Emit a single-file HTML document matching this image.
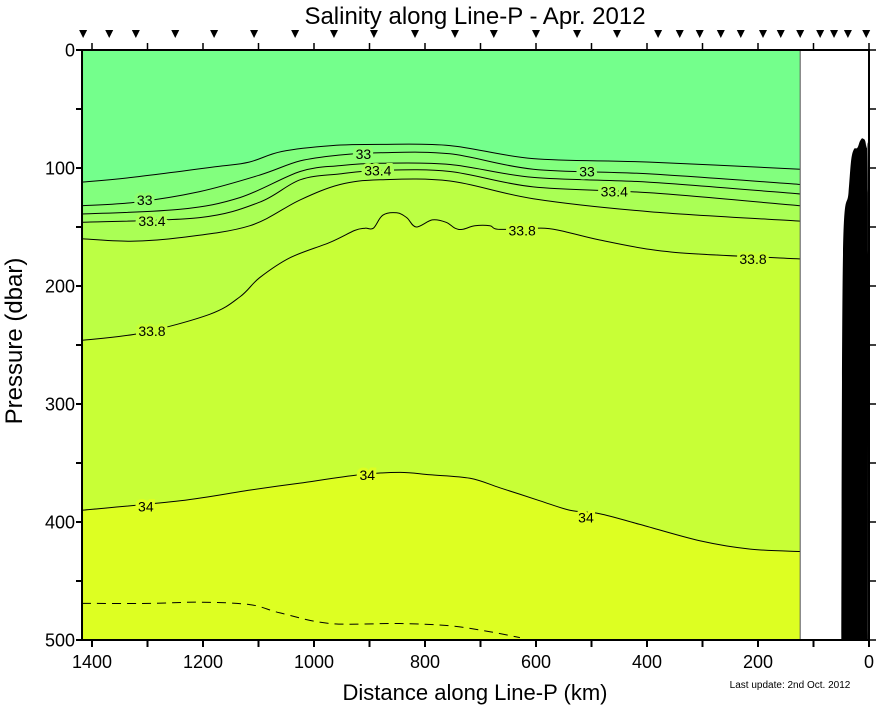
<!DOCTYPE html>
<html><head><meta charset="utf-8"><style>
html,body{margin:0;padding:0;background:#fff;}
svg{display:block;font-family:"Liberation Sans",Arial,sans-serif;}
</style></head><body>
<svg id="chart" width="878" height="708" viewBox="0 0 878 708" xmlns="http://www.w3.org/2000/svg">
<text x="475" y="24" font-size="24" text-anchor="middle">Salinity along Line-P - Apr. 2012</text>
<text transform="translate(22,341) rotate(-90)" font-size="24" text-anchor="middle">Pressure (dbar)</text>
<text x="475" y="700" font-size="22" text-anchor="middle">Distance along Line-P (km)</text>
<text x="790" y="688" font-size="10" text-anchor="middle">Last update: 2nd Oct. 2012</text>
<g id="plot"></g>
</svg>
<script>
// ---- data (distance km, pressure dbar) ----
const stationsKm=[1416,1369,1321,1250,1180,1108,1034,964,892,818,746,676,600,526,454,380,341,305,267,231,191,159,124,88,63,38,5];
const xTicksKm=[0,100,200,300,400,500,600,700,800,900,1000,1100,1200,1300,1400];
const xTickLabels=[0,200,400,600,800,1000,1200,1400];
const yTickLabels=[0,100,200,300,400,500];
const c1Km=[1418,1328,1178,1117,1058,968,881,755,605,395,124];
const c1P=[112,108,99,95,86,81,80,81,92,95,101];
const c2Km=[1418,1322,1206,1098,1025,953,881,755,605,395,124];
const c2P=[132,129,120,106,94,89,87,88,101,105,114];
const c3Km=[1418,1241,1133,1025,953,881,755,605,395,124];
const c3P=[139,135,125,103,98,96,97,108,112,122];
const c4Km=[1418,1206,1098,1025,953,881,755,605,395,124];
const c4P=[146,142,129,110,105,102,103,116,121,132];
const c5Km=[1418,1331,1241,1116,1025,953,881,755,605,395,124];
const c5P=[160,162,159,149,127,114,110,111,126,137,145];
const c6Km=[1418,1313,1188,1133,1098,1043,971,927,908,893,876,851,833,816,787,762,746,733,710,683,665,584,539,485,395,304,124];
const c6P=[246,240,224,209,193,176,163,153,151,151,140,138,142,150,144,146,151,152,149,149,152,151,155,161,169,173,177];
const c7Km=[1418,1241,1116,1025,918,845,791,719,665,593,539,485,413,304,214,124];
const c7P=[390,382,373,367,360,358,360,363,371,382,390,393,402,416,423,425];
const dashKm=[1418,1296,1206,1116,1061,971,845,755,683,629];
const dashP=[469,469,468,470,477,486,486,488,493,498];
const bathyKm=[50,47,37,32,27,21,16,11,5,2,2];
const bathyP=[500,178,121,93,84,83,77,75,82,121,500];
const labelText=["33","33","33","33.4","33.4","33.4","33.8","33.8","33.8","34","34","34"];
const labelKm=[1305,911,508,1292,885,459,1292,625,209,1303,904,510];
const labelP=[127,88,103,145,102,120,238,153,177,387,360,396];
const labelBand=[2,2,2,4,4,4,6,6,6,7,7,7];

const X=k=>869-k*0.555;
const Y=p=>50+p*1.18;
const NS="http://www.w3.org/2000/svg";
const g=document.getElementById('plot');
function mk(tag,attrs){const e=document.createElementNS(NS,tag);for(const k in attrs)e.setAttribute(k,attrs[k]);g.appendChild(e);return e;}
const KM0=1418, KM1=124;
const bandColors=["#74ff8c","#82ff7e","#8fff70","#9cff62","#aaff55","#bcff44","#c8ff36","#ddff22"];
const contours=[[c1Km,c1P],[c2Km,c2P],[c3Km,c3P],[c4Km,c4P],[c5Km,c5P],[c6Km,c6P],[c7Km,c7P]];
function smooth(ks,ps){
 const P=ks.map((k,i)=>[X(k),Y(ps[i])]);
 let s="M"+P[0][0].toFixed(1)+","+P[0][1].toFixed(1);
 for(let i=0;i<P.length-1;i++){
  const p0=P[i-1]||P[i],p1=P[i],p2=P[i+1],p3=P[i+2]||p2;
  const c1=[p1[0]+(p2[0]-p0[0])/6,p1[1]+(p2[1]-p0[1])/6];
  const c2=[p2[0]-(p3[0]-p1[0])/6,p2[1]-(p3[1]-p1[1])/6];
  s+=" C"+c1[0].toFixed(1)+","+c1[1].toFixed(1)+" "+c2[0].toFixed(1)+","+c2[1].toFixed(1)+" "+p2[0].toFixed(1)+","+p2[1].toFixed(1);
 }
 return s;
}
let r=mk('rect',{x:X(KM0),y:Y(0),width:X(KM1)-X(KM0),height:Y(500)-Y(0),fill:bandColors[7]});


for(let i=contours.length-1;i>=0;i--){
 const [ks,ps]=contours[i];
 const p=mk('path',{d:"M"+X(KM0)+","+Y(0)+" L"+smooth(ks,ps).slice(1)+" L"+X(KM1)+","+Y(0)+" Z",fill:bandColors[i]});
 
 
}
contours.forEach((c,i)=>{
 const l=mk('path',{d:smooth(c[0],c[1]),fill:'none',stroke:'#000','stroke-width':1});
 
 
});
let d=mk('path',{d:smooth(dashKm,dashP),fill:'none',stroke:'#000','stroke-width':1,'stroke-dasharray':'9,6'});


labelText.forEach((t,i)=>{
 const e=mk('text',{x:X(labelKm[i]),y:Y(labelP[i])+5,'font-size':14,'text-anchor':'middle',stroke:bandColors[labelBand[i]],'stroke-width':6,'paint-order':'stroke',fill:'#000'});
 e.textContent=t;
 
 
});
let ed=mk('line',{x1:X(KM1),y1:Y(0),x2:X(KM1),y2:Y(500),stroke:'#555','stroke-width':1});


let b=mk('path',{d:smooth(bathyKm,bathyP)+" Z",fill:'#000'});


let fr=mk('rect',{x:X(KM0),y:Y(0),width:X(0)-X(KM0),height:Y(500)-Y(0),fill:'none',stroke:'#000','stroke-width':2});


xTicksKm.forEach(k=>{
 const t1=mk('line',{x1:X(k),y1:Y(500),x2:X(k),y2:Y(500)+7,stroke:'#000','stroke-width':2});
 
 
 const t2=mk('line',{x1:X(k),y1:Y(0),x2:X(k),y2:Y(0)-7,stroke:'#000','stroke-width':1.5});
 
 
});
xTickLabels.forEach(k=>{
 const e=mk('text',{x:X(k),y:Y(500)+28,'font-size':18,'text-anchor':'middle'});
 e.textContent=k;
 
 
});
for(let p=0;p<=500;p+=50){
 const a=mk('line',{x1:X(KM0)-6,y1:Y(p),x2:X(KM0),y2:Y(p),stroke:'#000','stroke-width':2});
 
 
 const c=mk('line',{x1:X(0),y1:Y(p),x2:X(0)+7,y2:Y(p),stroke:'#000','stroke-width':1.5});
 
 
}
yTickLabels.forEach(p=>{
 const e=mk('text',{x:X(KM0)-7,y:Y(p)+6.5,'font-size':18,'text-anchor':'end'});
 e.textContent=p;
 
 
});
stationsKm.forEach(k=>{
 const x=X(k);
 const e=mk('polygon',{points:(x-4)+",30 "+(x+4)+",30 "+x+",38",fill:'#000'});
 
 
});
</script>
</body></html>
